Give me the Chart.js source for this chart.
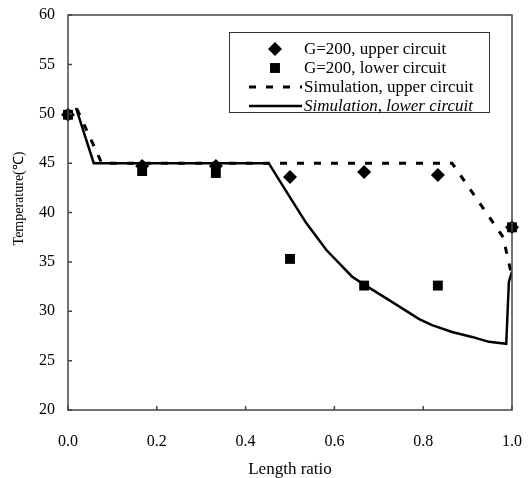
<!DOCTYPE html>
<html>
<head>
<meta charset="utf-8">
<script src="https://cdn.jsdelivr.net/npm/chart.js@4.4.1/dist/chart.umd.min.js"></script>
<style>
  html, body { margin: 0; padding: 0; background: #fff; overflow: hidden; }
  #wrap { width: 531px; height: 478px; position: relative; }
  canvas { display: block; }
</style>
</head>
<body>
<div id="wrap"><canvas id="chart"></canvas></div>
<script>
// measured points (length ratio vs temperature)
const ratio = [0, 0.167, 0.333, 0.5, 0.667, 0.833, 1.0];
const upperMeasured = [49.9, 44.7, 44.7, 43.6, 44.1, 43.8, 38.5];
const lowerMeasured = [49.9, 44.2, 44.0, 35.3, 32.6, 32.6, 38.5];

// simulation curves
const simUpperX = [0.02, 0.076, 0.865, 0.98, 1.0];
const simUpperY = [50.5, 45.0, 45.0, 37.5, 33.5];
const simLowerX = [0.018, 0.058, 0.452, 0.499, 0.537, 0.582, 0.64, 0.667, 0.717, 0.791, 0.82, 0.865, 0.91, 0.948, 0.987, 0.993, 1.0];
const simLowerY = [50.6, 45.0, 45.0, 41.6, 38.9, 36.2, 33.5, 32.7, 31.3, 29.2, 28.6, 27.9, 27.4, 26.9, 26.7, 33.0, 34.0];

const xTicks = [0, 0.2, 0.4, 0.6, 0.8, 1.0];
const yTicks = [20, 25, 30, 35, 40, 45, 50, 55, 60];

const legendLabels = ['G=200, upper circuit', 'G=200, lower circuit', 'Simulation, upper circuit', 'Simulation, lower circuit'];

const serif = '"Liberation Serif", "Times New Roman", serif';

function pts(xs, ys) {
  return xs.map((x, i) => ({ x: x, y: ys[i] }));
}

// box around plot + inward tick marks
const frame = {
  id: 'frame',
  afterDraw(chart) {
    const ctx = chart.ctx;
    const a = chart.chartArea;
    const xs = chart.scales.x, ys = chart.scales.y;
    ctx.save();
    ctx.strokeStyle = '#444';
    ctx.lineWidth = 1.5;
    ctx.strokeRect(a.left, a.top, a.right - a.left, a.bottom - a.top);
    ctx.beginPath();
    xTicks.forEach(v => {
      const px = xs.getPixelForValue(v);
      ctx.moveTo(px, a.bottom);
      ctx.lineTo(px, a.bottom - 4);
    });
    yTicks.forEach(v => {
      const py = ys.getPixelForValue(v);
      ctx.moveTo(a.left, py);
      ctx.lineTo(a.left + 4, py);
    });
    ctx.stroke();
    ctx.restore();
  }
};

// legend box inside plot
const innerLegend = {
  id: 'innerLegend',
  afterDraw(chart) {
    const ctx = chart.ctx;
    const left = 229, top = 32, right = 489, bottom = 112;
    const rows = [49, 68, 87, 106];
    const mx = 275, lx0 = 249, lx1 = 302, tx = 304;
    ctx.save();
    ctx.fillStyle = '#fff';
    ctx.fillRect(left, top, right - left, bottom - top);
    ctx.strokeStyle = '#333';
    ctx.lineWidth = 1;
    ctx.strokeRect(left + 0.5, top + 0.5, right - left, bottom - top);
    ctx.fillStyle = '#000';
    ctx.strokeStyle = '#000';
    Chart.helpers.drawPoint(ctx, { pointStyle: 'rectRot', radius: 7, rotation: 0, borderWidth: 0 }, mx, rows[0]);
    Chart.helpers.drawPoint(ctx, { pointStyle: 'rect', radius: 7, rotation: 0, borderWidth: 0 }, mx, rows[1]);
    ctx.lineWidth = 3;
    ctx.setLineDash([7, 10]);
    ctx.beginPath(); ctx.moveTo(lx0, rows[2]); ctx.lineTo(lx1, rows[2]); ctx.stroke();
    ctx.setLineDash([]);
    ctx.lineWidth = 2.5;
    ctx.beginPath(); ctx.moveTo(lx0, rows[3]); ctx.lineTo(lx1, rows[3]); ctx.stroke();
    ctx.textBaseline = 'middle';
    ctx.textAlign = 'left';
    legendLabels.forEach((t, i) => {
      ctx.font = (i === 3 ? 'italic ' : '') + '17px ' + serif;
      ctx.fillText(t, tx, rows[i] + 1);
    });
    ctx.restore();
  }
};

new Chart(document.getElementById('chart'), {
  type: 'scatter',
  data: {
    datasets: [
      {
        label: legendLabels[2],
        data: pts(simUpperX, simUpperY),
        showLine: true,
        borderColor: '#000',
        borderWidth: 3,
        borderDash: [7, 10],
        pointRadius: 0,
        pointHoverRadius: 0,
        fill: false
      },
      {
        label: legendLabels[3],
        data: pts(simLowerX, simLowerY),
        showLine: true,
        borderColor: '#000',
        borderWidth: 2.5,
        pointRadius: 0,
        pointHoverRadius: 0,
        fill: false
      },
      {
        label: legendLabels[1],
        data: pts(ratio, lowerMeasured),
        pointStyle: 'rect',
        pointRadius: 7,
        pointHoverRadius: 7,
        pointBackgroundColor: '#000',
        pointBorderWidth: 0,
        clip: false
      },
      {
        label: legendLabels[0],
        data: pts(ratio, upperMeasured),
        pointStyle: 'rectRot',
        pointRadius: 7,
        pointHoverRadius: 7,
        pointBackgroundColor: '#000',
        pointBorderWidth: 0,
        clip: false
      }
    ]
  },
  options: {
    responsive: true,
    maintainAspectRatio: false,
    animation: false,
    events: [],
    layout: { autoPadding: false, padding: { top: 15, right: 19, left: 0, bottom: 0 } },
    plugins: {
      legend: { display: false },
      tooltip: { enabled: false }
    },
    scales: {
      x: {
        type: 'linear',
        min: 0,
        max: 1,
        afterBuildTicks: s => { s.ticks = xTicks.map(v => ({ value: v })); },
        afterFit: s => { s.height = 68; s.paddingLeft = 0; s.paddingRight = 0; },
        grid: { display: false, drawTicks: false },
        border: { display: false },
        ticks: {
          padding: 22,
          color: '#000',
          font: { family: serif, size: 16 },
          callback: v => Number(v).toFixed(1)
        },
        title: {
          display: true,
          text: 'Length ratio',
          color: '#000',
          font: { family: serif, size: 17, lineHeight: 1 },
          padding: { top: 0, bottom: 0 }
        }
      },
      y: {
        type: 'linear',
        min: 20,
        max: 60,
        afterBuildTicks: s => { s.ticks = yTicks.map(v => ({ value: v })); },
        afterFit: s => { s.width = 68; s.paddingTop = 0; s.paddingBottom = 0; },
        grid: { display: false, drawTicks: false },
        border: { display: false },
        ticks: {
          padding: 13,
          color: '#000',
          font: { family: serif, size: 16 }
        },
        title: {
          display: true,
          text: '        Temperature(℃)',
          color: '#000',
          font: { family: serif, size: 14 },
          padding: { top: 11, bottom: 0 }
        }
      }
    }
  },
  plugins: [frame, innerLegend]
});
</script>
</body>
</html>
